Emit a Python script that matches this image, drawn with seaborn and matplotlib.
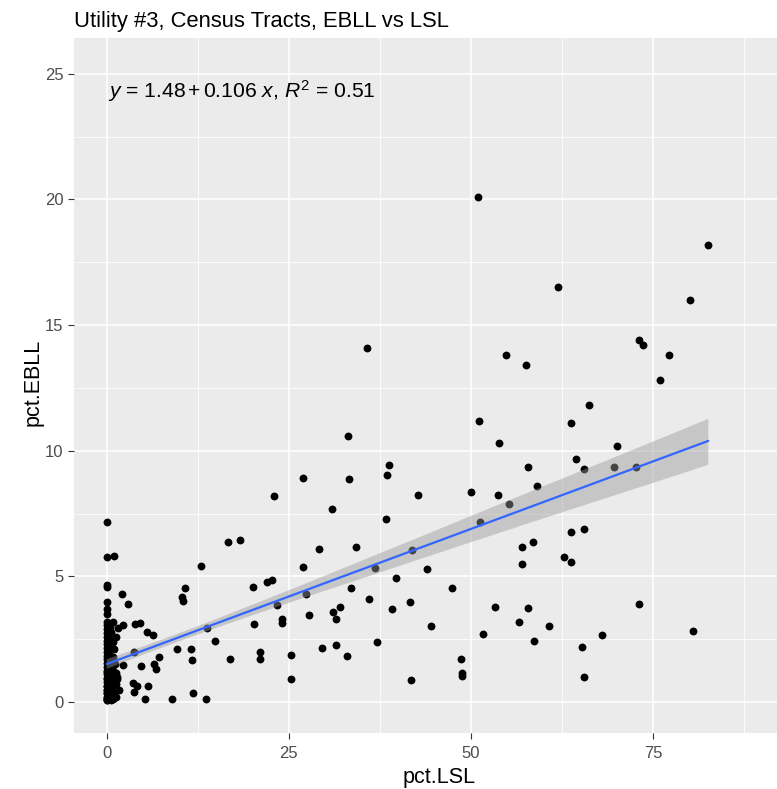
import matplotlib
matplotlib.use("Agg")
import matplotlib.pyplot as plt
import seaborn as sns
import pandas as pd

# ---- data ----
pct_lsl = [
    0, 0, 0, 0, 0, 0, 0, 0, 0, 0, 0, 0, 0, 0, 0, 0, 0, 0, 0, 0, 0, 0, 0, 0, 0, 0, 0, 0, 0,
    0.3, 0.4, 0.3, 0.5, 0.4, 0.3, 0.5, 0.4, 0.6, 0.5,
    0.9, 1.0, 1.05, 1.0, 1.1, 0.9, 1.0, 0.8, 1.2, 0.9, 1.0,
    0, 0, 0, 0.2, 0.1, 0.2, 0.1, 0.2, 0.1, 0.7, 0.6, 0.7, 0.6, 0.7, 0.2, 1.3, 1.2, 0.1,
    0.15, 0.25, 0.6, 0.3, 0.8, 1.3, 0.5, 0.4, 0.9, 0.3, 1.4, 0.1,
    1.6, 2.2, 1.7, 1.4, 2.15, 2.98, 2.2, 3.6, 4.2, 3.7, 3.9, 4.5, 3.75, 4.7, 5.5, 6.4,
    5.7, 5.3, 6.5, 6.7, 7.2, 9.0, 9.6, 10.7, 10.3, 10.5, 11.5, 11.7, 11.9, 13.0, 13.6,
    13.8, 14.9, 16.6, 18.3, 16.9, 20.05, 20.2, 21.0, 21.0, 22.0, 22.7, 22.9, 23.4, 24.1,
    24.1, 25.3, 25.3, 26.9, 27.0, 27.4, 27.8, 29.2, 29.6, 30.9, 31.1, 31.5, 31.5, 32.0,
    33.0, 33.1, 33.2, 33.5, 34.2, 35.8, 36.0, 36.8, 37.1, 38.3, 38.5, 38.7, 39.1, 39.7,
    41.6, 41.8, 41.9, 42.8, 44.0, 44.5, 47.4, 48.6, 48.8, 48.8, 50.0, 51.0, 51.1, 51.3,
    51.7, 53.3, 53.7, 53.9, 54.8, 55.2, 56.6, 57.0, 57.0, 57.6, 57.9, 57.9, 58.5, 58.7,
    59.1, 60.7, 62.0, 62.8, 63.8, 63.8, 63.8, 64.4, 65.2, 65.5, 65.5, 65.5, 66.2, 68.0,
    69.6, 70.0, 72.7, 73.1, 73.1, 73.7, 76.0, 77.2, 80.1, 80.5, 82.6,
]
pct_ebll = [
    0.1, 0.2, 0.35, 0.5, 0.65, 0.8, 0.95, 1.1, 1.25, 1.4, 1.55, 1.7, 1.85, 2.0, 2.15,
    2.3, 2.45, 2.6, 2.75, 2.9, 3.05, 3.2, 3.5, 3.7, 4.0, 4.58, 4.66, 5.76, 7.17,
    0.15, 0.6, 1.0, 1.3, 1.6, 1.9, 2.2, 2.5, 2.8, 3.0,
    0.13, 0.4, 0.87, 1.2, 1.5, 1.8, 2.1, 2.4, 2.6, 3.17, 5.82,
    0.1, 0.12, 0.15, 0.3, 0.5, 0.7, 0.9, 1.05, 1.2, 0.2, 0.55, 0.75, 1.1, 1.35, 0.15, 0.2,
    0.7, 0.35, 0.6, 0.8, 0.1, 1.45, 1.6, 1.15, 0.85, 0.25, 0.45, 1.0, 0.9, 0.65,
    2.93, 3.06, 0.48, 1.0, 4.31, 3.9, 1.49, 0.77, 0.65, 0.39, 3.09, 3.16, 2.0, 1.45, 2.79, 2.67,
    0.65, 0.13, 1.5, 1.31, 1.78, 0.13, 2.12, 4.52, 4.19, 4.03, 2.12, 1.66, 0.37, 5.42, 0.13,
    2.96, 2.45, 6.38, 6.43, 1.71, 4.59, 3.12, 2.0, 1.72, 4.76, 4.87, 8.2, 3.85, 3.29,
    3.13, 1.88, 0.92, 8.93, 5.37, 4.30, 3.46, 6.1, 2.16, 7.68, 3.57, 3.29, 2.28, 3.79,
    1.83, 10.6, 8.86, 4.52, 6.16, 14.1, 4.09, 5.32, 2.38, 7.28, 9.02, 9.43, 3.69, 4.92,
    3.97, 0.86, 6.05, 8.25, 5.3, 3.01, 4.52, 1.71, 1.14, 1.03, 8.36, 20.1, 11.2, 7.17,
    2.72, 3.79, 8.25, 10.3, 13.8, 7.9, 3.17, 6.16, 5.48, 13.4, 9.36, 3.74, 6.38, 2.44,
    8.58, 3.01, 16.5, 5.76, 5.56, 6.78, 11.1, 9.66, 2.21, 9.26, 6.88, 0.98, 11.8, 2.67,
    9.36, 10.2, 9.36, 14.4, 3.91, 14.2, 12.8, 13.8, 16.0, 2.84, 18.2,
]
x_ticks = [0, 25, 50, 75]
x_minor = [12.5, 37.5, 62.5, 87.5]
y_ticks = [0, 5, 10, 15, 20, 25]
y_minor = [2.5, 7.5, 12.5, 17.5, 22.5]
title = "Utility #3, Census Tracts, EBLL vs LSL"
eq_label = r"$y$ = 1.48$\,$+$\,$0.106 $x$, $R^2$ = 0.51"

sns.set_theme(style="darkgrid")
plt.rcParams['font.family'] = ['Liberation Sans', 'DejaVu Sans']
plt.rcParams['mathtext.fontset'] = 'custom'
plt.rcParams['mathtext.rm'] = 'Liberation Sans'
plt.rcParams['mathtext.it'] = 'Liberation Sans:italic'

df = pd.DataFrame({"pct.LSL": pct_lsl, "pct.EBLL": pct_ebll})

W, H = 777, 789
fig = plt.figure(figsize=(W / 100, H / 100), dpi=100)
fig.patch.set_facecolor("white")
ax = fig.add_axes([74 / W, 56 / H, (W - 74) / W, 695 / H])
ax.set_facecolor("#EBEBEB")

sns.scatterplot(data=df, x="pct.LSL", y="pct.EBLL", ax=ax, color="black",
                s=32, linewidth=0, zorder=2)
n_before = len(ax.collections)
sns.regplot(data=df, x="pct.LSL", y="pct.EBLL", ax=ax, scatter=False, ci=75,
            n_boot=1000, seed=3,
            line_kws=dict(color="#3366FF", linewidth=1.6, zorder=4))
for coll in ax.collections[n_before:]:
    coll.set_facecolor((0.6, 0.6, 0.6))
    coll.set_alpha(0.45)
    coll.set_edgecolor("none")
    coll.set_zorder(3)

ax.set_xlim(-4.5, (W - 107) / 7.28)
ax.set_ylim(-1.23, 26.42)
ax.set_xticks(x_ticks)
ax.set_xticks(x_minor, minor=True)
ax.set_yticks(y_ticks)
ax.set_yticks(y_minor, minor=True)
ax.grid(which="major", color="white", linewidth=1.1)
ax.grid(which="minor", color="white", linewidth=0.55)
ax.set_axisbelow(True)
for s in ax.spines.values():
    s.set_visible(False)
ax.tick_params(which="major", length=4, width=0.8, color="#333333",
               labelcolor="#4D4D4D", labelsize=12, bottom=True, left=True)
ax.tick_params(axis="x", which="major", pad=5)
ax.tick_params(axis="y", which="major", pad=3.6)
ax.tick_params(which="minor", length=0)

ax.set_xlabel("pct.LSL", fontsize=15.5, color="black")
ax.xaxis.label.set_va("baseline")
ax.xaxis.set_label_coords((435 - 74) / 695, (H - 783 - 56) / 695)
ax.set_ylabel("pct.EBLL", fontsize=15.5, color="black")
ax.yaxis.set_label_coords((44 - 74) / (W - 74), (H - 382 - 56) / 695)

fig.text(74 / W, 1 - 27 / H, title, fontsize=15.8, ha="left", va="baseline", color="black")
fig.text(108 / W, 1 - 98 / H, eq_label, fontsize=15.2, ha="left", va="baseline", color="black")

fig.savefig("out.png", dpi=100)
